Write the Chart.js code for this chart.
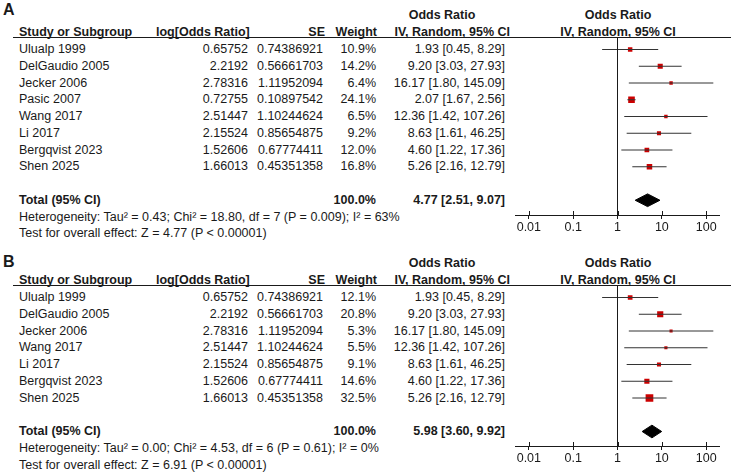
<!DOCTYPE html>
<html>
<head>
<meta charset="utf-8">
<script src="https://cdn.jsdelivr.net/npm/chart.js@4.4.0/dist/chart.umd.min.js"></script>
<style>
  body { margin: 0; background: #fff; width: 732px; height: 475px; overflow: hidden;
         font-family: "Liberation Sans", Arial, sans-serif; font-size: 12.5px; color: #1a1a1a; }
  .panel { position: absolute; left: 0; width: 732px; height: 240px; }
  .t { position: absolute; white-space: nowrap; line-height: 15px; height: 15px; }
  .b { font-weight: bold; }
  .rule { position: absolute; left: 13px; width: 718px; height: 1px; background: #1a1a1a; }
  canvas { position: absolute; }
</style>
</head>
<body>
<div id="panelA" class="panel" style="top:0"></div>
<div id="panelB" class="panel" style="top:248px"></div>
<script>
// ----- DATA: panel A -----
const studiesA = ["Ulualp 1999", "DelGaudio 2005", "Jecker 2006", "Pasic 2007", "Wang 2017", "Li 2017", "Bergqvist 2023", "Shen 2025"];
const logOrA = [0.65752, 2.2192, 2.78316, 0.72755, 2.51447, 2.15524, 1.52606, 1.66013];
const seA = [0.74386921, 0.56661703, 1.11952094, 0.10897542, 1.10244624, 0.85654875, 0.67774411, 0.45351358];
const weightA = [10.9, 14.2, 6.4, 24.1, 6.5, 9.2, 12.0, 16.8];
const orA = [1.93, 9.20, 16.17, 2.07, 12.36, 8.63, 4.60, 5.26];
const loA = [0.45, 3.03, 1.80, 1.67, 1.42, 1.61, 1.22, 2.16];
const hiA = [8.29, 27.93, 145.09, 2.56, 107.26, 46.25, 17.36, 12.79];
const totalA = [4.77, 2.51, 9.07];
const hetA = "Heterogeneity: Tau² = 0.43; Chi² = 18.80, df = 7 (P = 0.009); I² = 63%";
const testA = "Test for overall effect: Z = 4.77 (P < 0.00001)";

// ----- DATA: panel B -----
const studiesB = ["Ulualp 1999", "DelGaudio 2005", "Jecker 2006", "Wang 2017", "Li 2017", "Bergqvist 2023", "Shen 2025"];
const logOrB = [0.65752, 2.2192, 2.78316, 2.51447, 2.15524, 1.52606, 1.66013];
const seB = [0.74386921, 0.56661703, 1.11952094, 1.10244624, 0.85654875, 0.67774411, 0.45351358];
const weightB = [12.1, 20.8, 5.3, 5.5, 9.1, 14.6, 32.5];
const orB = [1.93, 9.20, 16.17, 12.36, 8.63, 4.60, 5.26];
const loB = [0.45, 3.03, 1.80, 1.42, 1.61, 1.22, 2.16];
const hiB = [8.29, 27.93, 145.09, 107.26, 46.25, 17.36, 12.79];
const totalB = [5.98, 3.60, 9.92];
const hetB = "Heterogeneity: Tau² = 0.00; Chi² = 4.53, df = 6 (P = 0.61); I² = 0%";
const testB = "Test for overall effect: Z = 6.91 (P < 0.00001)";

const xTicks = [0.01, 0.1, 1, 10, 100];

// ----- LAYOUT -----
const INK = "#1a1a1a";
const FONT = "'Liberation Sans', Arial, sans-serif";
const ROW0 = 49.5, PITCH = 16.75, RULE_Y = 37;
const rowY = (i) => ROW0 + i * PITCH;

function put(panel, text, x, y, align, bold, size) {
  const d = document.createElement("div");
  d.className = "t" + (bold ? " b" : "");
  d.textContent = text;
  d.style.top = (y - 7.5) + "px";
  if (size) d.style.fontSize = size + "px";
  if (align === "right") d.style.right = (732 - x) + "px";
  else if (align === "center") { d.style.left = x + "px"; d.style.transform = "translateX(-50%)"; }
  else d.style.left = x + "px";
  panel.appendChild(d);
}

// small tick marks above the axis line (RevMan style crossing ticks)
const upTicks = {
  id: "upTicks",
  afterDraw(chart) {
    const sx = chart.scales.x, ctx = chart.ctx, base = chart.chartArea.bottom;
    ctx.save();
    ctx.strokeStyle = INK;
    ctx.lineWidth = 1;
    sx.ticks.forEach((t) => {
      const px = Math.round(sx.getPixelForValue(t.value)) + 0.5;
      ctx.beginPath();
      ctx.moveTo(px, base - 4);
      ctx.lineTo(px, base);
      ctx.stroke();
    });
    ctx.restore();
  }
};

function buildPanel(id, label, labelY, names, logOr, se, weight, or, lo, hi, total, het, test) {
  const panel = document.getElementById(id);
  const n = names.length;

  // ----- TABLE TEXT -----
  put(panel, label, 3, labelY, "left", true, 16);
  put(panel, "Odds Ratio", 442, 15, "center", true);
  put(panel, "Odds Ratio", 618, 15, "center", true);
  put(panel, "Study or Subgroup", 19, 32, "left", true);
  put(panel, "log[Odds Ratio]", 156, 32, "left", true);
  put(panel, "SE", 325, 32, "right", true);
  put(panel, "Weight", 377, 32, "right", true);
  put(panel, "IV, Random, 95% CI", 510, 32, "right", true);
  put(panel, "IV, Random, 95% CI", 618, 32, "center", true);

  const rule = document.createElement("div");
  rule.className = "rule";
  rule.style.top = RULE_Y + "px";
  panel.appendChild(rule);

  names.forEach((name, i) => {
    const y = rowY(i);
    put(panel, name, 19, y, "left");
    put(panel, String(logOr[i]), 248, y, "right");
    put(panel, String(se[i]), 323, y, "right");
    put(panel, weight[i].toFixed(1) + "%", 376, y, "right");
    put(panel, `${or[i].toFixed(2)} [${lo[i].toFixed(2)}, ${hi[i].toFixed(2)}]`, 505, y, "right");
  });
  put(panel, "Total (95% CI)", 19, rowY(n + 1), "left", true);
  put(panel, "100.0%", 376, rowY(n + 1), "right", true);
  put(panel, `${total[0].toFixed(2)} [${total[1].toFixed(2)}, ${total[2].toFixed(2)}]`, 505, rowY(n + 1), "right", true);
  put(panel, het, 19, rowY(n + 2), "left");
  put(panel, test, 19, rowY(n + 3), "left");

  // ----- FOREST PLOT -----
  const canvas = document.createElement("canvas");
  const cTop = RULE_Y - 10;
  const axisY = rowY(n + 1) + 14.25;
  const H = Math.round(axisY - cTop + 30);
  canvas.width = 252; canvas.height = H;
  canvas.style.width = "252px"; canvas.style.height = H + "px";
  canvas.style.left = "480px"; canvas.style.top = cTop + "px";
  panel.appendChild(canvas);

  const yMin = (RULE_Y - ROW0) / PITCH;
  const yMax = yMin + (H - 10 - 30) / PITCH;
  const tRow = n + 1;

  const datasets = [];
  // line of no effect
  datasets.push({
    data: [{ x: 1, y: yMin }, { x: 1, y: yMax }],
    showLine: true, borderColor: INK, borderWidth: 1, pointRadius: 0
  });
  // confidence intervals
  names.forEach((_, i) => {
    datasets.push({
      data: [{ x: lo[i], y: i }, { x: hi[i], y: i }],
      showLine: true, borderColor: "#333", borderWidth: 1, pointRadius: 0
    });
  });
  // study squares, area ~ weight
  datasets.push({
    data: or.map((v, i) => ({ x: v, y: i })),
    pointStyle: "rect",
    pointRadius: weight.map((w) => (1.35 * Math.sqrt(w)) / Math.SQRT2),
    backgroundColor: "#cc0000", borderColor: "#cc0000", borderWidth: 0
  });
  // pooled diamond
  const h = 0.38;
  datasets.push({
    data: [
      { x: total[1], y: tRow }, { x: total[0], y: tRow - h },
      { x: total[2], y: tRow }, { x: total[0], y: tRow + h }, { x: total[1], y: tRow }
    ],
    showLine: true, fill: "shape", borderColor: "#000", backgroundColor: "#000",
    borderWidth: 1, pointRadius: 0, tension: 0
  });

  new Chart(canvas, {
    type: "scatter",
    data: { datasets },
    options: {
      responsive: false,
      animation: false,
      layout: { padding: { left: 35.5, right: 12.5, top: 10, bottom: 0 } },
      plugins: { legend: { display: false }, tooltip: { enabled: false } },
      scales: {
        x: {
          type: "logarithmic", min: 0.005, max: 200, bounds: "data",
          afterBuildTicks: (s) => { s.ticks = xTicks.map((v) => ({ value: v })); },
          afterFit: (s) => { s.height = 30; },
          ticks: {
            callback: (v) => String(v), color: INK, padding: 1,
            autoSkip: false, maxRotation: 0, font: { family: FONT, size: 12.5 }
          },
          grid: { drawOnChartArea: false, tickLength: 4, color: INK, lineWidth: 1 },
          border: { display: true, color: INK, width: 1 }
        },
        y: { type: "linear", reverse: true, min: yMin, max: yMax, display: false }
      }
    },
    plugins: [upTicks]
  });
}

buildPanel("panelA", "A", 9.5, studiesA, logOrA, seA, weightA, orA, loA, hiA, totalA, hetA, testA);
buildPanel("panelB", "B", 13, studiesB, logOrB, seB, weightB, orB, loB, hiB, totalB, hetB, testB);
</script>
</body>
</html>
